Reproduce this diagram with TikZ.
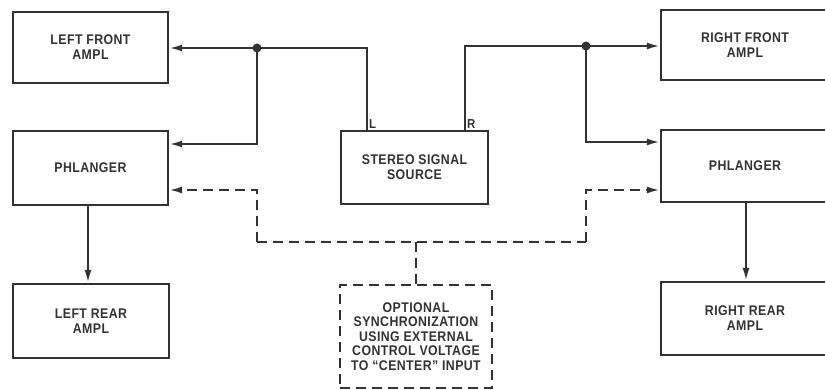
\documentclass[tikz,border=0pt]{standalone}
\usepackage{fontspec}
\setmainfont{Liberation Sans}
\newfontfamily\labfont[FakeStretch=0.88, LetterSpace=3]{Liberation Sans}
\usetikzlibrary{arrows.meta}
\definecolor{ink}{RGB}{50,50,50}
\tikzset{
  blk/.style={draw=ink, line width=2.3pt, minimum width=#1, inner sep=0pt, align=center,
    font=\labfont\bfseries\fontsize{14}{15}\selectfont, text=ink},
  wire/.style={draw=ink, line width=2.1pt},
  arr/.style={wire, -{Latex[length=13pt,width=7pt]}},
  dsh/.style={dash pattern=on 10pt off 6pt},
  jdot/.style={circle, fill=ink, inner sep=0pt, minimum size=9pt},
  term/.style={font=\labfont\bfseries\fontsize{13}{13}\selectfont, text=ink, inner sep=1pt}
}
\begin{document}
\begin{tikzpicture}[x=1pt,y=-1pt]
\useasboundingbox (0,0) rectangle (825,390);
\clip (0,0) rectangle (825,390);
% boxes
\node[blk=155pt, minimum height=71pt] (LF) at (90.5,47.5) {LEFT FRONT\\AMPL};
\node[blk=155pt, minimum height=74pt] (LP) at (90.5,168) {PHLANGER};
\node[blk=156pt, minimum height=74pt] (LR) at (91,321) {LEFT REAR\\AMPL};
\node[blk=147pt, minimum height=73pt] (SS) at (414.5,167.5) {STEREO SIGNAL\\SOURCE};
\node[blk=168pt, minimum height=70pt] (RF) at (745,45) {RIGHT FRONT\\AMPL};
\node[blk=168pt, minimum height=72pt] (RP) at (745,166) {PHLANGER};
\node[blk=168pt, minimum height=73pt] (RR) at (745,318.5) {RIGHT REAR\\AMPL};
\node[blk=152pt, minimum height=103pt, dsh, font=\labfont\bfseries\fontsize{14}{14.5}\selectfont] (OPT) at (416,336.5)
  {OPTIONAL\\SYNCHRONIZATION\\USING EXTERNAL\\CONTROL VOLTAGE\\TO “CENTER” INPUT};
% terminals and junctions
\coordinate (Lt) at (367,131);
\coordinate (Rt) at (465,131);
\coordinate (Lc) at (367,48);
\coordinate (Rc) at (465,46);
\node[jdot] (JL) at (257,48) {};
\node[jdot] (JR) at (586,46) {};
\node[term, anchor=south west] (Llab) at (368,130) {L};
\node[term, anchor=south west] (Rlab) at (466,130) {R};
% left channel
\draw[wire] (Lt) -- (Lc) -- (JL.center);
\draw[arr] (JL.center) -- (LF.east |- JL);
\coordinate (LPin) at (257,144);
\draw[arr] (JL.center) -- (LPin) -- (LP.east |- LPin);
% right channel
\draw[wire] (Rt) -- (Rc) -- (JR.center);
\draw[arr] (JR.center) -- (RF.west |- JR);
\coordinate (RPin) at (586,142);
\draw[arr] (JR.center) -- (RPin) -- (RP.west |- RPin);
% rear
\draw[arr] (LP.south -| 88,0) -- (LR.north -| 88,0);
\draw[arr] (RP.south -| 746,0) -- (RR.north -| 746,0);
% dashed control
\coordinate (DL) at (257,242);
\coordinate (DR) at (586,242);
\coordinate (DLu) at (257,190);
\coordinate (DRu) at (586,190);
\coordinate (DM) at (OPT.north |- DL);
\draw[wire, dsh] (DL) -- (DR);
\draw[wire, dsh] (OPT.north) -- (DM);
\draw[arr, dsh] (DL) -- (DLu) -- (LP.east |- DLu);
\draw[arr, dsh] (DR) -- (DRu) -- (RP.west |- DRu);
\end{tikzpicture}
\end{document}
